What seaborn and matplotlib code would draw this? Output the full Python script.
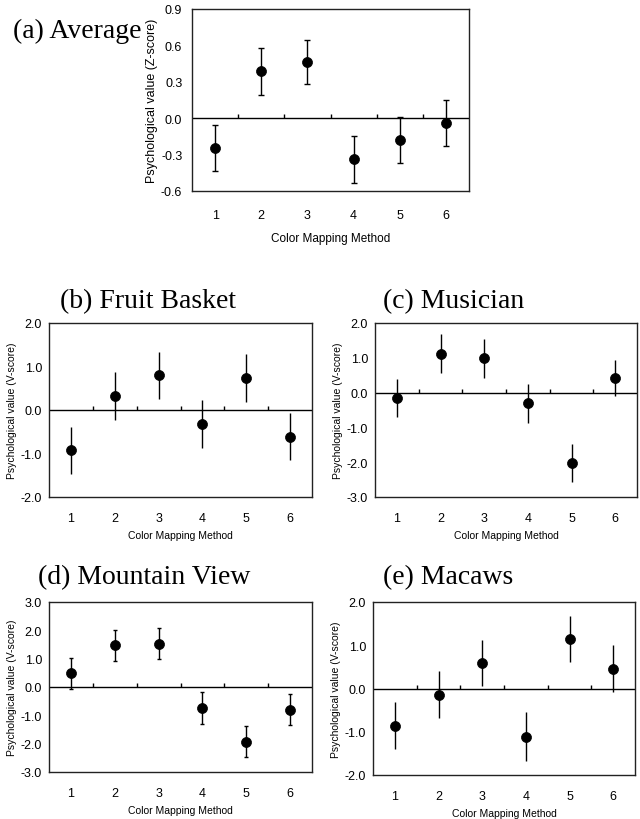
import numpy as np
import pandas as pd
import matplotlib
matplotlib.use('Agg')
import matplotlib.pyplot as plt
import seaborn as sns

sns.set_style('white')
plt.rcParams['font.family'] = ['Liberation Sans', 'DejaVu Sans']
plt.rcParams['text.color'] = 'black'
plt.rcParams['axes.labelcolor'] = 'black'
plt.rcParams['xtick.color'] = 'black'
plt.rcParams['ytick.color'] = 'black'

methods = [1, 2, 3, 4, 5, 6]

avg_mean = [-0.245, 0.385, 0.465, -0.340, -0.180, -0.040]
avg_err = [0.19, 0.19, 0.18, 0.19, 0.19, 0.19]

fruit_mean = [-0.92, 0.32, 0.80, -0.33, 0.74, -0.61]
fruit_err = [0.54, 0.55, 0.54, 0.55, 0.55, 0.53]

musician_mean = [-0.15, 1.12, 0.98, -0.31, -2.03, 0.42]
musician_err = [0.55, 0.55, 0.55, 0.56, 0.55, 0.53]

mountain_mean = [0.48, 1.47, 1.53, -0.73, -1.93, -0.80]
mountain_err = [0.56, 0.54, 0.55, 0.56, 0.55, 0.55]

macaws_mean = [-0.86, -0.14, 0.59, -1.11, 1.15, 0.46]
macaws_err = [0.55, 0.55, 0.53, 0.56, 0.53, 0.55]

panels = [
    # title, mean, err, ylabel, yticks, rect (px), title pos (px), capsize, style
    ('(a) Average', avg_mean, avg_err, 'Psychological value (Z-score)',
     [-0.6, -0.3, 0.0, 0.3, 0.6, 0.9], [192, 10, 469, 192], (13, 31), 2.5, 'big'),
    ('(b) Fruit Basket', fruit_mean, fruit_err, 'Psychological value (V-score)',
     [-2.0, -1.0, 0.0, 1.0, 2.0], [49, 324, 312, 498], (60, 302), 0, 'small'),
    ('(c) Musician', musician_mean, musician_err, 'Psychological value (V-score)',
     [-3.0, -2.0, -1.0, 0.0, 1.0, 2.0], [375, 324, 637, 498], (383, 302), 0, 'small'),
    ('(d) Mountain View', mountain_mean, mountain_err, 'Psychological value (V-score)',
     [-3.0, -2.0, -1.0, 0.0, 1.0, 2.0, 3.0], [49, 603, 312, 773], (38, 578), 1.5, 'small'),
    ('(e) Macaws', macaws_mean, macaws_err, 'Psychological value (V-score)',
     [-2.0, -1.0, 0.0, 1.0, 2.0], [373, 603, 635, 776], (383, 578), 0, 'small'),
]

W, H = 640, 820
fig = plt.figure(figsize=(W / 100, H / 100), dpi=100)

for title, mean, err, ylab, yticks, rect, tpos, cap, size in panels:
    x0, y0, x1, y1 = rect
    ax = fig.add_axes([x0 / W, 1 - y1 / H, (x1 - x0) / W, (y1 - y0) / H])
    df = pd.DataFrame({'method': methods, 'value': mean, 'err': err})

    ax.errorbar(df['method'], df['value'], yerr=df['err'], fmt='none',
                ecolor='black', elinewidth=1.0, capsize=cap, capthick=1.0, zorder=2)
    sns.scatterplot(data=df, x='method', y='value', ax=ax, color='black',
                    s=52, edgecolor='black', linewidth=0.5, zorder=3, legend=False)

    ymin, ymax = yticks[0], yticks[-1]
    ax.set_xlim(0.5, 6.5)
    ax.set_ylim(ymin, ymax)
    ax.axhline(0, color='black', lw=1.0, zorder=1)
    # small category separators standing on the zero line
    mids = np.array(methods[:-1]) + 0.5
    ax.vlines(mids, 0, 0.022 * (ymax - ymin), color='black', lw=1.0)

    ax.set_xticks(methods)
    ax.set_yticks(yticks)
    ax.set_yticklabels([f'{t:.1f}' for t in yticks])
    for sp in ax.spines.values():
        sp.set_color('#222222')
        sp.set_linewidth(1.0)

    if size == 'big':
        ax.tick_params(axis='x', length=0, pad=13, labelsize=9)
        ax.tick_params(axis='y', length=0, pad=7, labelsize=9)
        ax.set_xlabel('Color Mapping Method', fontsize=8.5, labelpad=8)
        ax.set_ylabel(ylab, fontsize=9, labelpad=2)
    else:
        ax.tick_params(axis='x', length=0, pad=11, labelsize=9)
        ax.tick_params(axis='y', length=0, pad=5, labelsize=9)
        ax.set_xlabel('Color Mapping Method', fontsize=7.5, labelpad=4)
        ax.set_ylabel(ylab, fontsize=7.5, labelpad=3)

    fig.text(tpos[0] / W, 1 - tpos[1] / H, title, fontsize=20,
             family=['Liberation Serif', 'DejaVu Serif'], ha='left', va='center')

fig.savefig('out.png', dpi=100, facecolor='white')
